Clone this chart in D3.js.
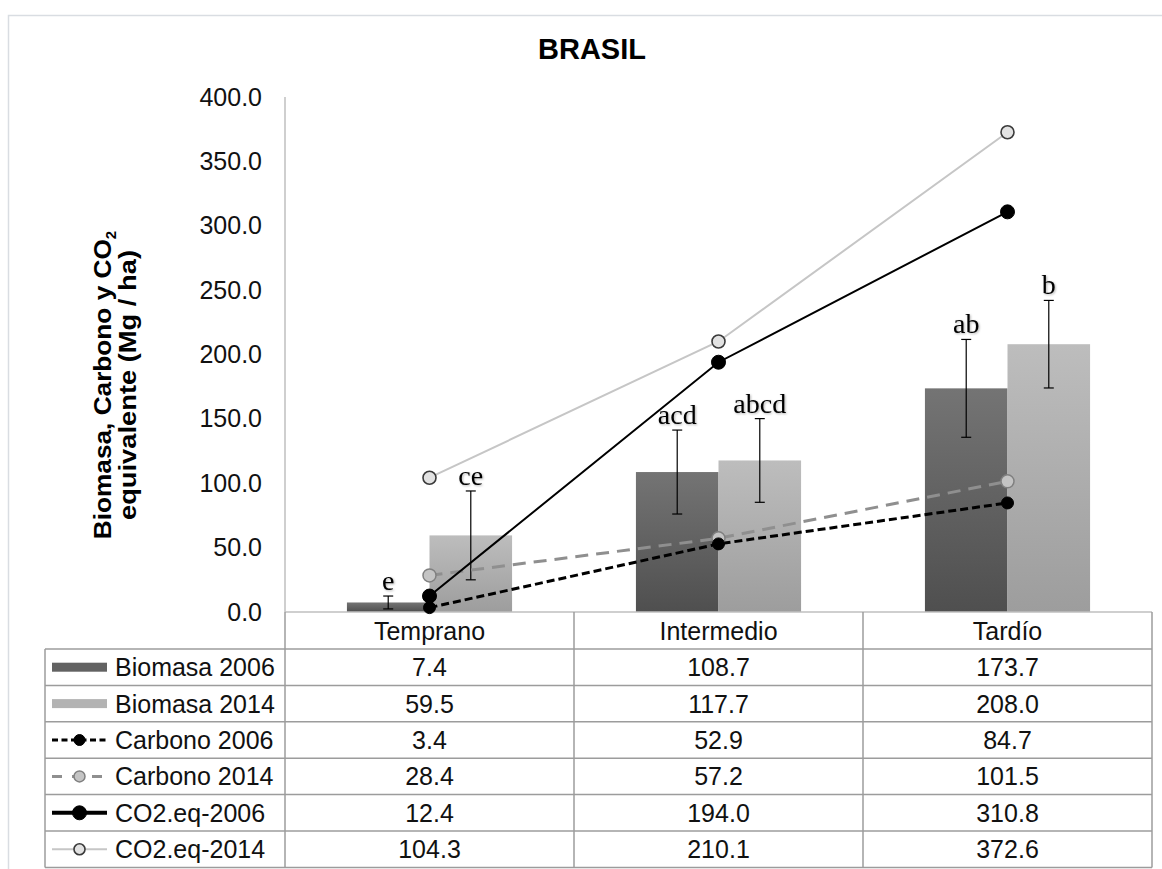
<!DOCTYPE html>
<html>
<head>
<meta charset="utf-8">
<script src="https://cdn.jsdelivr.net/npm/d3@7"></script>
<style>
  html, body { margin: 0; padding: 0; background: #fff; }
  svg { display: block; }
  text { font-family: "Liberation Sans", Arial, sans-serif; }
  text.serif { font-family: "Liberation Serif", "Times New Roman", serif; }
</style>
</head>
<body>
<svg id="chart" width="1162" height="869"></svg>
<script>
// ---------- DATA ----------
const title = "BRASIL";
const categories = ["Temprano", "Intermedio", "Tardío"];
const barSeriesNames = ["Biomasa 2006", "Biomasa 2014"];
const biomasa2006 = [7.4, 108.7, 173.7];
const biomasa2014 = [59.5, 117.7, 208.0];
const err2006 = [5.0, 32.6, 38.0];
const err2014 = [34.5, 32.5, 34.0];
const letters2006 = ["e", "acd", "ab"];
const letters2014 = ["ce", "abcd", "b"];
const carbono2006 = [3.4, 52.9, 84.7];
const carbono2014 = [28.4, 57.2, 101.5];
const co2eq2006 = [12.4, 194.0, 310.8];
const co2eq2014 = [104.3, 210.1, 372.6];
const yTicks = [0, 50, 100, 150, 200, 250, 300, 350, 400];
const rowNames = ["Biomasa 2006", "Biomasa 2014", "Carbono 2006", "Carbono 2014", "CO2.eq-2006", "CO2.eq-2014"];

// ---------- LAYOUT ----------
const svg = d3.select("#chart");
const plotL = 285, plotR = 1152, plotT = 97, plotB = 612;
const tableL = 45, rowH = 36.4, headerH = 37;
const fontSize = 25;

const defs = svg.append("defs");
function grad(id, top, bottom) {
  const g = defs.append("linearGradient").attr("id", id).attr("x1", 0).attr("y1", 0).attr("x2", 0).attr("y2", 1);
  g.append("stop").attr("offset", "0%").attr("stop-color", top);
  g.append("stop").attr("offset", "100%").attr("stop-color", bottom);
}
grad("g2006", "#747474", "#4f4f4f");
grad("g2014", "#bdbdbd", "#9d9d9d");
const shadow = defs.append("filter").attr("id", "shadow").attr("x", "-20%").attr("y", "-20%").attr("width", "140%").attr("height", "140%");
shadow.append("feDropShadow").attr("dx", 1).attr("dy", 1).attr("stdDeviation", 1).attr("flood-color", "#000").attr("flood-opacity", 0.3);

// frame
svg.append("rect").attr("x", 8.5).attr("y", 15.5).attr("width", 1200).attr("height", 900)
  .attr("fill", "#fff").attr("stroke", "#d9dde2").attr("stroke-width", 1.5);

const x = d3.scaleBand().domain(categories).range([plotL, plotR]).paddingInner(0).paddingOuter(0);
const xs = d3.scaleBand().domain(barSeriesNames).range([0, x.bandwidth()]).paddingInner(0).paddingOuter(0.75);
const y = d3.scaleLinear().domain([0, 400]).range([plotB, plotT]);

// title
svg.append("text").attr("x", 592).attr("y", 59).attr("text-anchor", "middle")
  .attr("font-size", 29).attr("font-weight", "bold").attr("fill", "#000").text(title);

// y axis title
const yt = svg.append("text").attr("transform", "translate(0,385) rotate(-90)")
  .attr("text-anchor", "middle").attr("font-size", 23).attr("font-weight", "bold").attr("fill", "#000");
const t1 = yt.append("tspan").attr("x", 0).attr("y", 111);
t1.append("tspan").attr("textLength", 300).attr("lengthAdjust", "spacingAndGlyphs").text("Biomasa,  Carbono y CO");
t1.append("tspan").attr("font-size", 15).attr("dy", 5).text("2");
yt.append("tspan").attr("x", 0).attr("y", 136).attr("textLength", 270).attr("lengthAdjust", "spacingAndGlyphs").text("equivalente (Mg / ha)");

// y axis
const yAxis = d3.axisLeft(y).tickValues(yTicks).tickFormat(d3.format(".1f")).tickSize(0).tickPadding(23);
const ya = svg.append("g").attr("transform", `translate(${plotL},0)`).call(yAxis);
ya.select(".domain").remove();
ya.selectAll("text").attr("font-size", fontSize).attr("fill", "#111");

// bars
const barData = [];
categories.forEach((c, i) => {
  barData.push({ c, s: barSeriesNames[0], v: biomasa2006[i], e: err2006[i], l: letters2006[i], fill: "url(#g2006)" });
  barData.push({ c, s: barSeriesNames[1], v: biomasa2014[i], e: err2014[i], l: letters2014[i], fill: "url(#g2014)" });
});
svg.append("g").selectAll("rect").data(barData).join("rect")
  .attr("x", d => x(d.c) + xs(d.s))
  .attr("y", d => y(d.v))
  .attr("width", xs.bandwidth())
  .attr("height", d => y(0) - y(d.v))
  .attr("fill", d => d.fill);

// error bars
const eg = svg.append("g").attr("stroke", "#000").attr("stroke-width", 1.2);
barData.forEach(d => {
  const cx = x(d.c) + xs(d.s) + xs.bandwidth() / 2;
  eg.append("line").attr("x1", cx).attr("x2", cx).attr("y1", y(d.v + d.e)).attr("y2", y(d.v - d.e));
  eg.append("line").attr("x1", cx - 5).attr("x2", cx + 5).attr("y1", y(d.v + d.e)).attr("y2", y(d.v + d.e));
  eg.append("line").attr("x1", cx - 5).attr("x2", cx + 5).attr("y1", y(d.v - d.e)).attr("y2", y(d.v - d.e));
});

// axis baseline
svg.append("line").attr("x1", plotL).attr("x2", plotR).attr("y1", plotB).attr("y2", plotB)
  .attr("stroke", "#bfbfbf").attr("stroke-width", 1.5);
svg.append("line").attr("x1", plotL).attr("x2", plotL).attr("y1", plotT).attr("y2", plotB)
  .attr("stroke", "#bfbfbf").attr("stroke-width", 1.5);

// lines
const lineSeries = [
  { name: "Carbono 2014", vals: carbono2014, stroke: "#8f8f8f", sw: 3, dash: "13,8", r: 6.5, mfill: "#c4c4c4", mstroke: "#808080", msw: 1.5 },
  { name: "Carbono 2006", vals: carbono2006, stroke: "#000", sw: 3, dash: "8,4", r: 6, mfill: "#000", mstroke: "#000", msw: 1 },
  { name: "CO2.eq-2014", vals: co2eq2014, stroke: "#c6c6c6", sw: 2, dash: null, r: 6.5, mfill: "#e2e2e2", mstroke: "#3a3a3a", msw: 1.6 },
  { name: "CO2.eq-2006", vals: co2eq2006, stroke: "#000", sw: 2, dash: null, r: 7, mfill: "#000", mstroke: "#000", msw: 1 }
];
const line = d3.line().x((d, i) => x(categories[i]) + x.bandwidth() / 2).y(d => y(d));
lineSeries.forEach(s => {
  svg.append("path").datum(s.vals).attr("d", line).attr("fill", "none")
    .attr("stroke", s.stroke).attr("stroke-width", s.sw).attr("stroke-dasharray", s.dash);
});
lineSeries.forEach(s => {
  svg.append("g").selectAll("circle").data(s.vals).join("circle")
    .attr("cx", (d, i) => x(categories[i]) + x.bandwidth() / 2)
    .attr("cy", d => y(d)).attr("r", s.r)
    .attr("fill", s.mfill).attr("stroke", s.mstroke).attr("stroke-width", s.msw);
});

// significance letters
svg.append("g").selectAll("text").data(barData).join("text")
  .attr("class", "serif")
  .attr("x", d => x(d.c) + xs(d.s) + xs.bandwidth() / 2)
  .attr("y", d => y(d.v + d.e) - 6)
  .attr("text-anchor", "middle")
  .attr("font-size", 28).attr("fill", "#000")
  .attr("filter", "url(#shadow)")
  .text(d => d.l);

// ---------- DATA TABLE ----------
const gridColor = "#9c9c9c";
const tg = svg.append("g");
const tableRowsTop = plotB + headerH;
const tableBottom = tableRowsTop + rowH * rowNames.length;
categories.forEach((c, i) => {
  tg.append("line").attr("x1", x(c) + x.bandwidth()).attr("x2", x(c) + x.bandwidth())
    .attr("y1", plotB).attr("y2", tableBottom).attr("stroke", gridColor).attr("stroke-width", 1.5);
});
tg.append("line").attr("x1", plotL).attr("x2", plotL).attr("y1", plotB).attr("y2", tableBottom)
  .attr("stroke", gridColor).attr("stroke-width", 1.5);
tg.append("line").attr("x1", tableL).attr("x2", tableL).attr("y1", tableRowsTop).attr("y2", tableBottom)
  .attr("stroke", gridColor).attr("stroke-width", 1.5);
for (let r = 0; r <= rowNames.length; r++) {
  const yy = tableRowsTop + r * rowH;
  tg.append("line").attr("x1", tableL).attr("x2", plotR).attr("y1", yy).attr("y2", yy)
    .attr("stroke", gridColor).attr("stroke-width", 1.5);
}
categories.forEach(c => {
  tg.append("text").attr("x", x(c) + x.bandwidth() / 2).attr("y", plotB + headerH / 2 + 9)
    .attr("text-anchor", "middle").attr("font-size", fontSize).attr("fill", "#111").text(c);
});
const tableValues = [biomasa2006, biomasa2014, carbono2006, carbono2014, co2eq2006, co2eq2014];
tableValues.forEach((vals, r) => {
  const cy = tableRowsTop + r * rowH + rowH / 2;
  vals.forEach((v, i) => {
    tg.append("text").attr("x", x(categories[i]) + x.bandwidth() / 2).attr("y", cy + 9)
      .attr("text-anchor", "middle").attr("font-size", fontSize).attr("fill", "#111").text(d3.format(".1f")(v));
  });
  tg.append("text").attr("x", 115).attr("y", cy + 9).attr("font-size", fontSize).attr("fill", "#111").text(rowNames[r]);
  const kx1 = 52, kx2 = 107, kc = (kx1 + kx2) / 2;
  if (r === 0 || r === 1) {
    tg.append("rect").attr("x", kx1).attr("y", cy - 4.5).attr("width", kx2 - kx1).attr("height", 9)
      .attr("fill", r === 0 ? "#626262" : "#b3b3b3");
  } else {
    const s = lineSeries.find(l => l.name === rowNames[r]);
    tg.append("line").attr("x1", kx1).attr("x2", kx2).attr("y1", cy).attr("y2", cy)
      .attr("stroke", s.stroke).attr("stroke-width", r === 4 ? 4 : s.sw)
      .attr("stroke-dasharray", r === 2 ? "6,3.5" : (r === 3 ? "10,10" : null));
    tg.append("circle").attr("cx", kc).attr("cy", cy).attr("r", r === 4 ? 7 : 5.5)
      .attr("fill", s.mfill).attr("stroke", s.mstroke).attr("stroke-width", s.msw);
  }
});
</script>
</body>
</html>
